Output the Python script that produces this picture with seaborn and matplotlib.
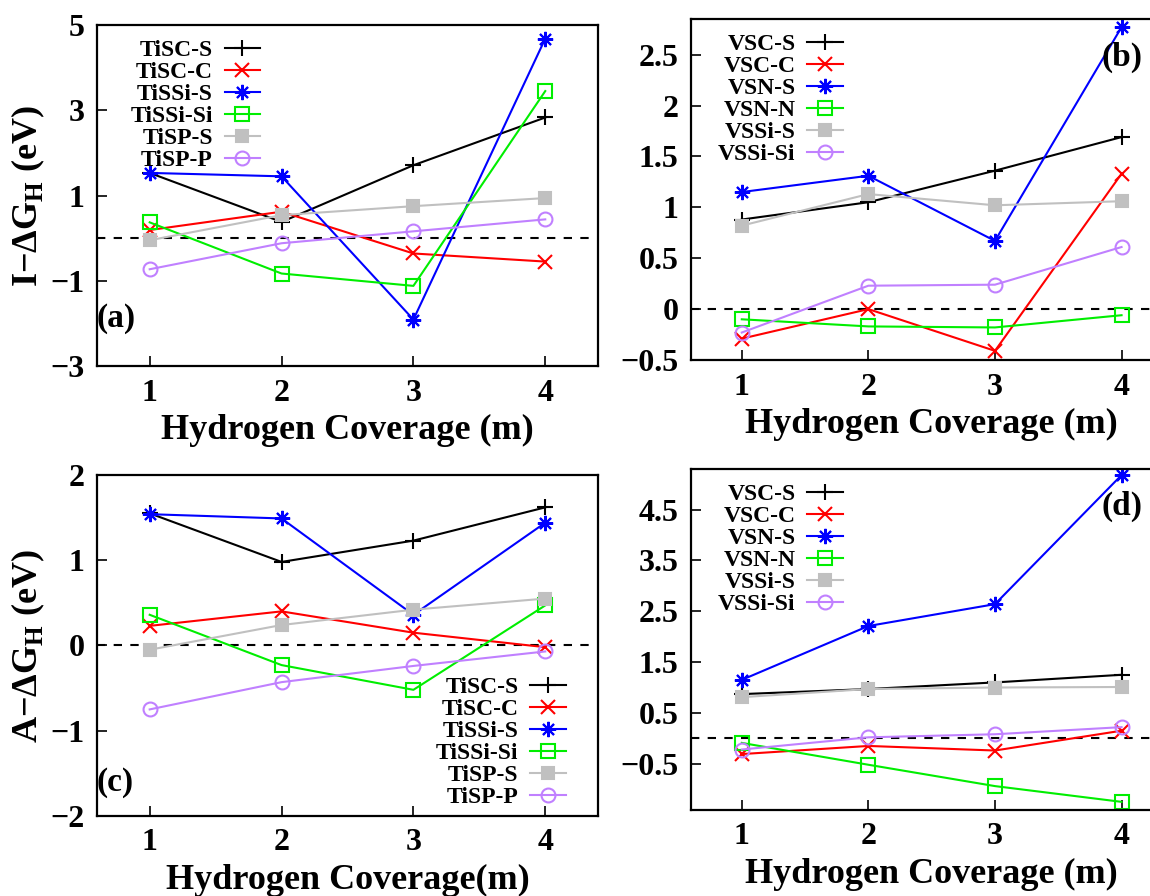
import matplotlib
matplotlib.use('Agg')
import matplotlib.pyplot as plt
import seaborn as sns
from matplotlib.ticker import FuncFormatter

coverage = [1, 2, 3, 4]

# (a) I-dG_H, Ti systems
ti_labels = ['TiSC-S', 'TiSC-C', 'TiSSi-S', 'TiSSi-Si', 'TiSP-S', 'TiSP-P']
a_tisc_s = [1.53, 0.38, 1.71, 2.83]
a_tisc_c = [0.19, 0.62, -0.36, -0.55]
a_tissi_s = [1.53, 1.45, -1.91, 4.68]
a_tissi_si = [0.37, -0.83, -1.12, 3.45]
a_tisp_s = [-0.05, 0.54, 0.75, 0.94]
a_tisp_p = [-0.73, -0.12, 0.16, 0.44]

# (b) I-dG_H, V systems
v_labels = ['VSC-S', 'VSC-C', 'VSN-S', 'VSN-N', 'VSSi-S', 'VSSi-Si']
b_vsc_s = [0.88, 1.05, 1.36, 1.69]
b_vsc_c = [-0.29, 0.0, -0.41, 1.33]
b_vsn_s = [1.15, 1.31, 0.67, 2.77]
b_vsn_n = [-0.10, -0.17, -0.18, -0.06]
b_vssi_s = [0.82, 1.13, 1.02, 1.06]
b_vssi_si = [-0.23, 0.23, 0.24, 0.61]

# (c) A-dG_H, Ti systems
c_tisc_s = [1.55, 0.98, 1.23, 1.62]
c_tisc_c = [0.23, 0.40, 0.15, -0.02]
c_tissi_s = [1.54, 1.49, 0.36, 1.44]
c_tissi_si = [0.36, -0.23, -0.52, 0.47]
c_tisp_s = [-0.05, 0.24, 0.42, 0.55]
c_tisp_p = [-0.75, -0.43, -0.24, -0.07]

# (d) A-dG_H, V systems
d_vsc_s = [0.87, 0.97, 1.10, 1.25]
d_vsc_c = [-0.31, -0.15, -0.24, 0.15]
d_vsn_s = [1.15, 2.21, 2.64, 5.18]
d_vsn_n = [-0.09, -0.52, -0.94, -1.25]
d_vssi_s = [0.81, 0.97, 1.00, 1.01]
d_vssi_si = [-0.22, 0.02, 0.08, 0.22]

yticks_a = [-3, -1, 1, 3, 5]
yticks_b = [-0.5, 0, 0.5, 1, 1.5, 2, 2.5]
yticks_c = [-2, -1, 0, 1, 2]
yticks_d = [-0.5, 0.5, 1.5, 2.5, 3.5, 4.5]

colors = ['black', '#ff0000', '#0000ff', '#00ee00', '#c0c0c0', '#c080ff']
markers = ['+', 'x', (8, 2, 0), 's', 's', 'o']
filled = [True, True, True, False, True, False]
msizes = [12, 10, 11, 10, 9, 10]

plt.rcParams['font.family'] = 'Liberation Serif'
plt.rcParams['font.weight'] = 'bold'
plt.rcParams['axes.labelweight'] = 'bold'
plt.rcParams['mathtext.fontset'] = 'custom'
plt.rcParams['mathtext.rm'] = 'Liberation Serif:bold'
plt.rcParams['mathtext.bf'] = 'Liberation Serif:bold'
plt.rcParams['axes.linewidth'] = 1.6


def draw_panel(ax, labels, series, ylim, yticks, leg_loc, leg_anchor, tag, tag_xy,
               xlabel, ylabel=None):
    for lab, vals, col, mk, fill, ms in zip(labels, series, colors, markers, filled, msizes):
        sns.lineplot(x=coverage, y=vals, ax=ax, color=col, marker=mk, markersize=ms,
                     mec=col, mfc=col if fill else 'none', mew=1.5, lw=1.5, label=lab)
    ax.axhline(0, color='black', ls=(0, (4, 4)), lw=1.5, zorder=0)
    ax.set_xlim(0.6, 4.4)
    ax.set_ylim(*ylim)
    ax.set_xticks(coverage)
    ax.set_yticks(yticks)
    ax.yaxis.set_major_formatter(FuncFormatter(lambda v, p: ('%g' % v).replace('-', '\u2212')))
    ax.tick_params(direction='in', length=7, width=1.2, labelsize=23, pad=9,
                   top=False, right=False)
    ax.set_xlabel(xlabel, fontsize=26, labelpad=5)
    if ylabel:
        ax.set_ylabel(ylabel, fontsize=26, labelpad=2)
    else:
        ax.set_ylabel('')
    ax.legend(loc=leg_loc, bbox_to_anchor=leg_anchor, markerfirst=False, frameon=False,
              fontsize=17, handlelength=1.5, handletextpad=0.5, labelspacing=0.02,
              borderaxespad=0, borderpad=0.2)
    ax.text(tag_xy[0], tag_xy[1], tag, transform=ax.transAxes, fontsize=24,
            ha='left', va='center')


fig = plt.figure(figsize=(11.5, 8.96), dpi=100)
ax_a = fig.add_axes([0.0843, 0.5915, 0.4357, 0.3806])
ax_b = fig.add_axes([0.601, 0.5982, 0.4183, 0.3806])
ax_c = fig.add_axes([0.0843, 0.0893, 0.4357, 0.3806])
ax_d = fig.add_axes([0.601, 0.096, 0.4183, 0.3806])

draw_panel(ax_a, ti_labels,
           [a_tisc_s, a_tisc_c, a_tissi_s, a_tissi_si, a_tisp_s, a_tisp_p],
           (-3, 5), yticks_a, 'upper right', (0.335, 0.972), '(a)', (0.0, 0.14),
           'Hydrogen Coverage (m)', 'I\u2212\u0394G$_\\mathrm{H}$ (eV)')
draw_panel(ax_b, v_labels,
           [b_vsc_s, b_vsc_c, b_vsn_s, b_vsn_n, b_vssi_s, b_vssi_si],
           (-0.5, 2.85), yticks_b, 'upper right', (0.325, 0.97), '(b)', (0.854, 0.886),
           'Hydrogen Coverage (m)')
draw_panel(ax_c, ti_labels,
           [c_tisc_s, c_tisc_c, c_tissi_s, c_tissi_si, c_tisp_s, c_tisp_p],
           (-2, 2), yticks_c, 'lower right', (0.945, 0.01), '(c)', (0.0, 0.097),
           'Hydrogen Coverage(m)', 'A\u2212\u0394G$_\\mathrm{H}$ (eV)')
draw_panel(ax_d, v_labels,
           [d_vsc_s, d_vsc_c, d_vsn_s, d_vsn_n, d_vssi_s, d_vssi_si],
           (-1.41, 5.3), yticks_d, 'upper right', (0.325, 0.97), '(d)', (0.854, 0.889),
           'Hydrogen Coverage (m)')

fig.savefig('out.png', dpi=100)
